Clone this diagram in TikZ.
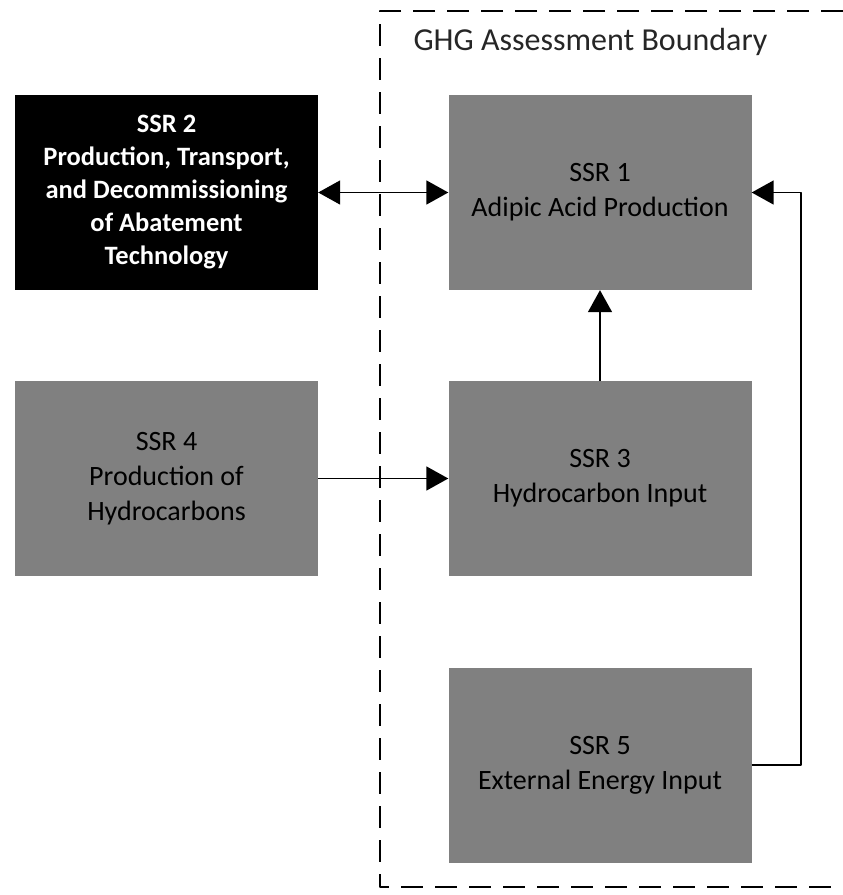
\documentclass[tikz,border=0pt]{standalone}
\usepackage{fontspec}
\setmainfont{Carlito}
\usetikzlibrary{arrows.meta}
\begin{document}
\begin{tikzpicture}[x=1pt, y=-1pt, line join=round,
		ssrbox/.style={rectangle, fill=ssrgray, minimum width=303pt, minimum height=195pt,
			inner sep=0pt, align=center, font=\fontsize{28}{35}\selectfont},
		darkbox/.style={ssrbox, fill=black, text=white, font=\fontsize{26.5}{33}\selectfont\bfseries},
		flow/.style={line width=1.6pt, -{Triangle[length=22pt,width=24pt]}},
		boundary/.style={line width=2.6pt, dash pattern=on 22pt off 12pt}]
				\definecolor{ssrgray}{RGB}{128,128,128}
				\useasboundingbox (0,0) rectangle (843,895);
				\node[darkbox] (ssr2) at (166.5,192.5) {SSR 2\\Production, Transport,\\and Decommissioning\\of Abatement\\Technology};
				\node[ssrbox] (ssr1) at (600,192.5) {SSR 1\\Adipic Acid Production};
				\node[ssrbox] (ssr4) at (166.5,478.5) {SSR 4\\Production of\\Hydrocarbons};
				\node[ssrbox] (ssr3) at (600,478.5) {SSR 3\\Hydrocarbon Input};
				\node[ssrbox] (ssr5) at (600,765) {SSR 5\\External Energy Input};
				\coordinate (TL) at (380,11);
				\coordinate (TR) at (843,11);
				\coordinate (BL) at (380,887);
				\coordinate (BR) at (843,887);
				\coordinate (R) at (801,0);
				\draw[boundary] (TR) -- (TL) -- (BL) -- (BR);
				\node[anchor=west, font=\fontsize{32}{38}\selectfont, text=black!85] (gl) at (410,42) {GHG Assessment Boundary};
				\draw[flow, {Triangle[length=22pt,width=24pt]}-{Triangle[length=22pt,width=24pt]}] (ssr2.east) -- (ssr1.west);
				\draw[flow] (ssr4.east) -- (ssr3.west);
				\draw[flow] (ssr3.north) -- (ssr1.south);
				\draw[flow] (ssr5.east) -- (ssr5.east -| R) -- (ssr1.east -| R) -- (ssr1.east);
			\end{tikzpicture}
\end{document}
